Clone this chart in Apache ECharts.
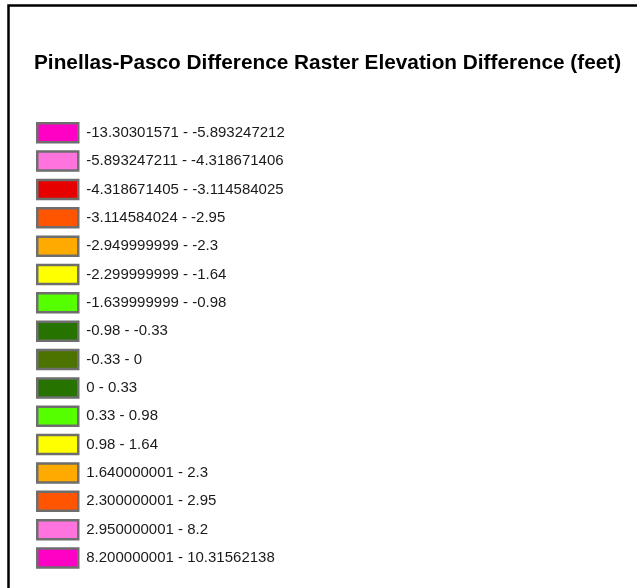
<!DOCTYPE html>
<html>
<head>
<meta charset="utf-8">
<script src="https://cdn.jsdelivr.net/npm/echarts@6/dist/echarts.min.js"></script>
<style>
  html, body { margin: 0; padding: 0; background: #fff; }
  #chart { width: 637px; height: 588px; }
</style>
</head>
<body>
<div id="chart"></div>
<script>
const classLabels = [
  "-13.30301571 - -5.893247212",
  "-5.893247211 - -4.318671406",
  "-4.318671405 - -3.114584025",
  "-3.114584024 - -2.95",
  "-2.949999999 - -2.3",
  "-2.299999999 - -1.64",
  "-1.639999999 - -0.98",
  "-0.98 - -0.33",
  "-0.33 - 0",
  "0 - 0.33",
  "0.33 - 0.98",
  "0.98 - 1.64",
  "1.640000001 - 2.3",
  "2.300000001 - 2.95",
  "2.950000001 - 8.2",
  "8.200000001 - 10.31562138"
];
const classColors = [
  "#ff00c5", "#ff73df", "#e60000", "#ff5500", "#ffaa00", "#ffff00", "#55ff00", "#267300",
  "#4c7300", "#267300", "#55ff00", "#ffff00", "#ffaa00", "#ff5500", "#ff73df", "#ff00c5"
];
const titleText = "Pinellas-Pasco Difference Raster Elevation Difference (feet)";

const chart = echarts.init(document.getElementById("chart"));

const options = {
  backgroundColor: "#ffffff",
  animation: false,
  title: {
    text: titleText,
    left: 34,
    top: 53,
    padding: 0,
    textStyle: {
      fontFamily: "Liberation Sans, Arial, sans-serif",
      fontWeight: "bold",
      fontSize: 20.8,
      color: "#000"
    }
  },
  legend: {
    orient: "vertical",
    left: 36,
    top: 122,
    height: 465,
    padding: 0,
    itemWidth: 41,
    itemHeight: 19,
    itemGap: 6.85,
    icon: "rect",
    itemStyle: { borderColor: "#6e6e6e", borderWidth: 2.5, opacity: 1 },
    textStyle: {
      fontFamily: "Liberation Sans, Arial, sans-serif",
      fontSize: 15,
      lineHeight: 19,
      color: "#1a1a1a",
      padding: [0, 0, 0, 3]
    },
    selectedMode: false,
    data: classLabels
  },
  graphic: [
    {
      type: "rect",
      silent: true,
      shape: { x: 8.5, y: 5.5, width: 700, height: 700 },
      style: { fill: "none", stroke: "#000", lineWidth: 2.5 }
    }
  ],
  xAxis: { show: false },
  yAxis: { show: false },
  grid: { show: false },
  series: classLabels.map((name, i) => ({
    name: name,
    type: "scatter",
    data: [],
    itemStyle: { color: classColors[i], opacity: 1 }
  }))
};

chart.setOption(options);
</script>
</body>
</html>
